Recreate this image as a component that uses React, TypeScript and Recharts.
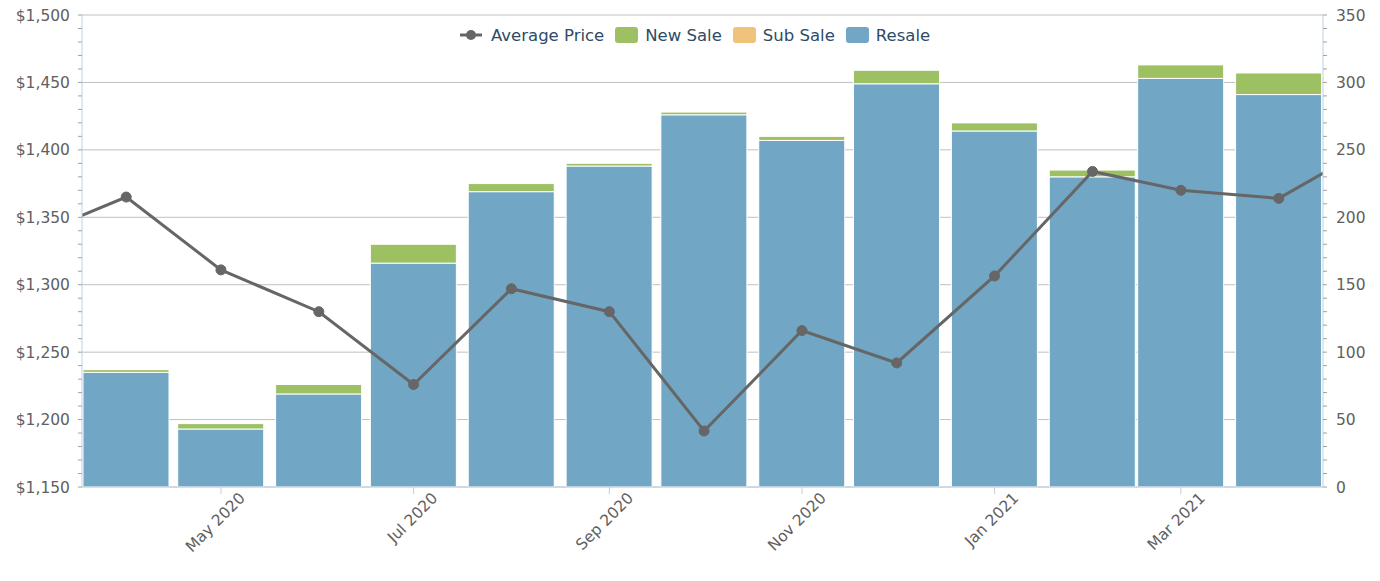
import React from 'react';
import {
  ComposedChart,
  Bar,
  Line,
  XAxis,
  YAxis,
  CartesianGrid,
} from 'recharts';

const FONT = '"DejaVu Sans", Verdana, sans-serif';

// monthly points, first and last are only partly visible (line runs off the plot)
const months = [
  '2020-03', '2020-04', '2020-05', '2020-06', '2020-07', '2020-08', '2020-09', '2020-10',
  '2020-11', '2020-12', '2021-01', '2021-02', '2021-03', '2021-04', '2021-05',
];
const resale = [null, 85, 43, 69, 166, 219, 238, 276, 257, 299, 264, 230, 303, 291, null];
const subSale = [null, 0, 0, 0, 0, 0, 0, 0, 0, 0, 0, 0, 0, 0, null];
const newSale = [null, 2, 4, 7, 14, 6, 2, 2, 3, 10, 6, 5, 10, 16, null];
const avgPrice = [1335, 1365, 1311, 1280, 1226, 1297, 1280, 1191.5, 1266, 1242, 1306.5, 1384, 1370, 1364, 1404];

const tickMonths = ['2020-05', '2020-07', '2020-09', '2020-11', '2021-01', '2021-03'];
const priceTicks = [1150, 1200, 1250, 1300, 1350, 1400, 1450, 1500];
const countTicks = [0, 50, 100, 150, 200, 250, 300, 350];

const MONTH_NAMES = ['Jan', 'Feb', 'Mar', 'Apr', 'May', 'Jun', 'Jul', 'Aug', 'Sep', 'Oct', 'Nov', 'Dec'];
const DAY = 24 * 3600 * 1000;

const toTime = (s: string) => Date.UTC(+s.slice(0, 4), +s.slice(5, 7) - 1, 1);
const fmtMonth = (t: number) => {
  const d = new Date(t);
  return `${MONTH_NAMES[d.getUTCMonth()]} ${d.getUTCFullYear()}`;
};
const fmtPrice = (v: number) => '$' + v.toLocaleString('en-US');

// minor ticks every 10 units on both value axes
const minorSteps = (lo: number, hi: number) => {
  const out: number[] = [];
  for (let v = lo; v <= hi; v += 10) out.push(v);
  return out;
};

const data = months.map((m, i) => ({
  t: toTime(m),
  resale: resale[i],
  subSale: subSale[i],
  newSale: newSale[i],
  avg: avgPrice[i],
}));

const xMin = toTime('2020-04') - 14 * DAY;
const xMax = toTime('2021-04') + 14 * DAY;

const COLORS = {
  avg: '#666666',
  newSale: '#9DC063',
  subSale: '#F0C27B',
  resale: '#71A6C5',
};

const legendItems = [
  { name: 'Average Price', color: COLORS.avg, line: true },
  { name: 'New Sale', color: COLORS.newSale },
  { name: 'Sub Sale', color: COLORS.subSale },
  { name: 'Resale', color: COLORS.resale },
];

const TICK_SIZE = 15.5;

const PriceTick = (props: any) => {
  const { x, y, payload } = props;
  if (!priceTicks.includes(payload.value)) return <g />;
  return (
    <text x={x} y={y} dy="0.36em" textAnchor="end" fill="#606060" fontSize={TICK_SIZE} fontFamily={FONT}>
      {fmtPrice(payload.value)}
    </text>
  );
};

const CountTick = (props: any) => {
  const { x, y, payload } = props;
  if (!countTicks.includes(payload.value)) return <g />;
  return (
    <text x={x} y={y} dy="0.36em" textAnchor="start" fill="#606060" fontSize={TICK_SIZE} fontFamily={FONT}>
      {payload.value}
    </text>
  );
};

const MonthTick = (props: any) => {
  const { x, y, payload } = props;
  const ax = x + 25;
  const ay = y + 3;
  return (
    <text
      x={ax}
      y={ay}
      textAnchor="end"
      transform={`rotate(-45 ${ax} ${ay})`}
      fill="#606060"
      fontSize={TICK_SIZE}
      fontFamily={FONT}
    >
      {fmtMonth(payload.value)}
    </text>
  );
};

function ChartLegend() {
  return (
    <div
      style={{
        position: 'absolute',
        left: 460,
        top: 26,
        height: 18,
        display: 'flex',
        alignItems: 'center',
        fontFamily: FONT,
        fontSize: 16.5,
        color: '#2f4b66',
        whiteSpace: 'nowrap',
      }}
    >
      {legendItems.map((it) => (
        <div key={it.name} style={{ display: 'flex', alignItems: 'center', marginRight: 11 }}>
          {it.line ? (
            <svg width={22} height={16} style={{ marginRight: 9 }}>
              <line x1={0} y1={8} x2={22} y2={8} stroke={it.color} strokeWidth={3} />
              <circle cx={11} cy={8} r={5} fill={it.color} />
            </svg>
          ) : (
            <svg width={23} height={16} style={{ marginRight: 7 }}>
              <rect x={0} y={0} width={23} height={16} rx={3} fill={it.color} />
            </svg>
          )}
          <span>{it.name}</span>
        </div>
      ))}
    </div>
  );
}

export default function App() {
  return (
    <div style={{ position: 'absolute', left: 0, top: 0, width: 1380, height: 581, background: '#fff' }}>
      <ComposedChart width={1380} height={581} data={data} margin={{ top: 15, right: 0, bottom: 0, left: 0 }}>
        <CartesianGrid
          vertical={false}
          yAxisId="price"
          horizontalValues={priceTicks}
          stroke="#C0C0C0"
        />
        <XAxis
          dataKey="t"
          type="number"
          scale="linear"
          domain={[xMin, xMax]}
          allowDataOverflow
          ticks={tickMonths.map(toTime)}
          tick={MonthTick}
          height={94}
          tickSize={7}
          axisLine={{ stroke: '#C0D0E0' }}
          tickLine={{ stroke: '#C0D0E0' }}
          interval={0}
        />
        <YAxis
          yAxisId="price"
          domain={[1150, 1500]}
          ticks={minorSteps(1150, 1500)}
          interval={0}
          width={82}
          tickSize={4}
          tickMargin={8}
          tick={PriceTick}
          axisLine={{ stroke: '#C0D0E0' }}
          tickLine={{ stroke: '#A0A0A0' }}
        />
        <YAxis
          yAxisId="count"
          orientation="right"
          domain={[0, 350]}
          ticks={minorSteps(0, 350)}
          interval={0}
          width={57}
          tickSize={4}
          tickMargin={9}
          tick={CountTick}
          axisLine={{ stroke: '#C0D0E0' }}
          tickLine={{ stroke: '#A0A0A0' }}
        />
        <Bar yAxisId="count" dataKey="resale" name="Resale" stackId="sales" fill={COLORS.resale} stroke="#fff" strokeWidth={1} barSize={86} isAnimationActive={false} />
        <Bar yAxisId="count" dataKey="subSale" name="Sub Sale" stackId="sales" fill={COLORS.subSale} stroke="#fff" strokeWidth={1} barSize={86} isAnimationActive={false} />
        <Bar yAxisId="count" dataKey="newSale" name="New Sale" stackId="sales" fill={COLORS.newSale} stroke="#fff" strokeWidth={1} barSize={86} isAnimationActive={false} />
        <Line
          yAxisId="price"
          dataKey="avg"
          name="Average Price"
          stroke={COLORS.avg}
          strokeWidth={3}
          dot={{ r: 5, fill: COLORS.avg, stroke: COLORS.avg, strokeWidth: 1 }}
          activeDot={false}
          isAnimationActive={false}
        />
      </ComposedChart>
      <ChartLegend />
    </div>
  );
}
